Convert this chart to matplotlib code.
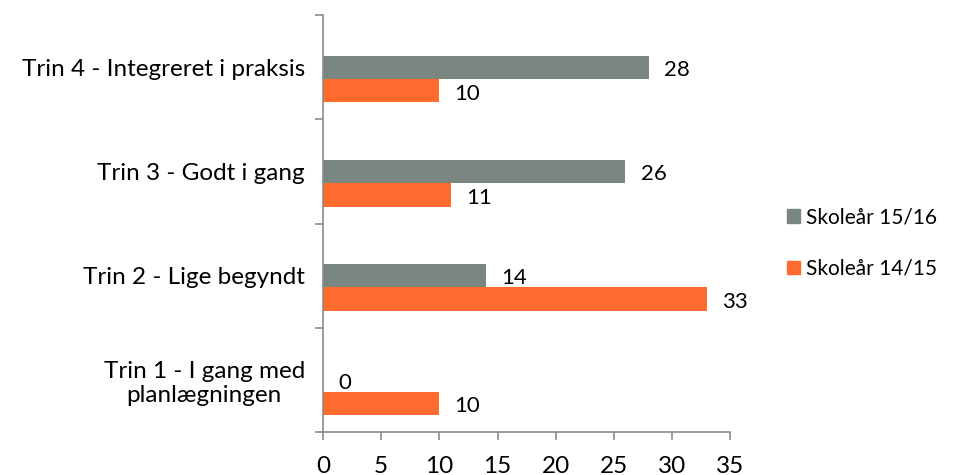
import numpy as np
import matplotlib.pyplot as plt
from matplotlib.patches import Patch

categories = ["Trin 1 - I gang med\nplanlægningen", "Trin 2 - Lige begyndt",
              "Trin 3 - Godt i gang", "Trin 4 - Integreret i praksis"]
skolear_1516 = [0, 14, 26, 28]
skolear_1415 = [10, 33, 11, 10]
series_names = ["Skoleår 15/16", "Skoleår 14/15"]
xticks = [0, 5, 10, 15, 20, 25, 30, 35]

GRAY = "#7A8780"
ORANGE = "#FF6B2F"
SPINE = "#8C8C8C"

plt.rcParams["font.family"] = ["Lato", "DejaVu Sans"]

fig = plt.figure(figsize=(9.57, 4.75), dpi=100)
ax = fig.add_axes([0.3375, 0.0905, 0.4255, 0.8775])

y = np.arange(len(categories))
h = 0.225
ax.barh(y, skolear_1516, height=h, color=GRAY)
ax.barh(y - h, skolear_1415, height=h, color=ORANGE)

# value labels right of each bar
for yi, v in zip(y, skolear_1516):
    ax.annotate(str(v), (v, yi), xytext=(11, -2), textcoords="offset points",
                ha="left", va="center", fontsize=16)
for yi, v in zip(y - h, skolear_1415):
    ax.annotate(str(v), (v, yi), xytext=(11, -2), textcoords="offset points",
                ha="left", va="center", fontsize=16)

ax.set_xlim(0, 35)
ax.set_ylim(-0.5, 3.5)
ax.set_xticks(xticks)
ax.set_yticks(y)
ax.set_yticklabels(categories, fontsize=17.5, multialignment="center")
ax.set_yticks(np.arange(-0.5, 4.0, 1.0), minor=True)
ax.tick_params(axis="y", which="major", length=0, pad=13)
ax.tick_params(axis="y", which="minor", length=6, color=SPINE, width=1.2)
ax.tick_params(axis="x", length=6, color=SPINE, width=1.2, pad=11, labelsize=17.5)

for s in ["top", "right"]:
    ax.spines[s].set_visible(False)
for s in ["left", "bottom"]:
    ax.spines[s].set_color(SPINE)
    ax.spines[s].set_linewidth(1.2)

handles = [Patch(color=GRAY), Patch(color=ORANGE)]
fig.legend(handles, series_names, loc="center left", bbox_to_anchor=(0.822, 0.488),
           frameon=False, fontsize=15, handlelength=0.65, handleheight=0.65,
           handletextpad=0.3, labelspacing=1.5, borderpad=0, borderaxespad=0)

fig.savefig("out.png", dpi=100)
